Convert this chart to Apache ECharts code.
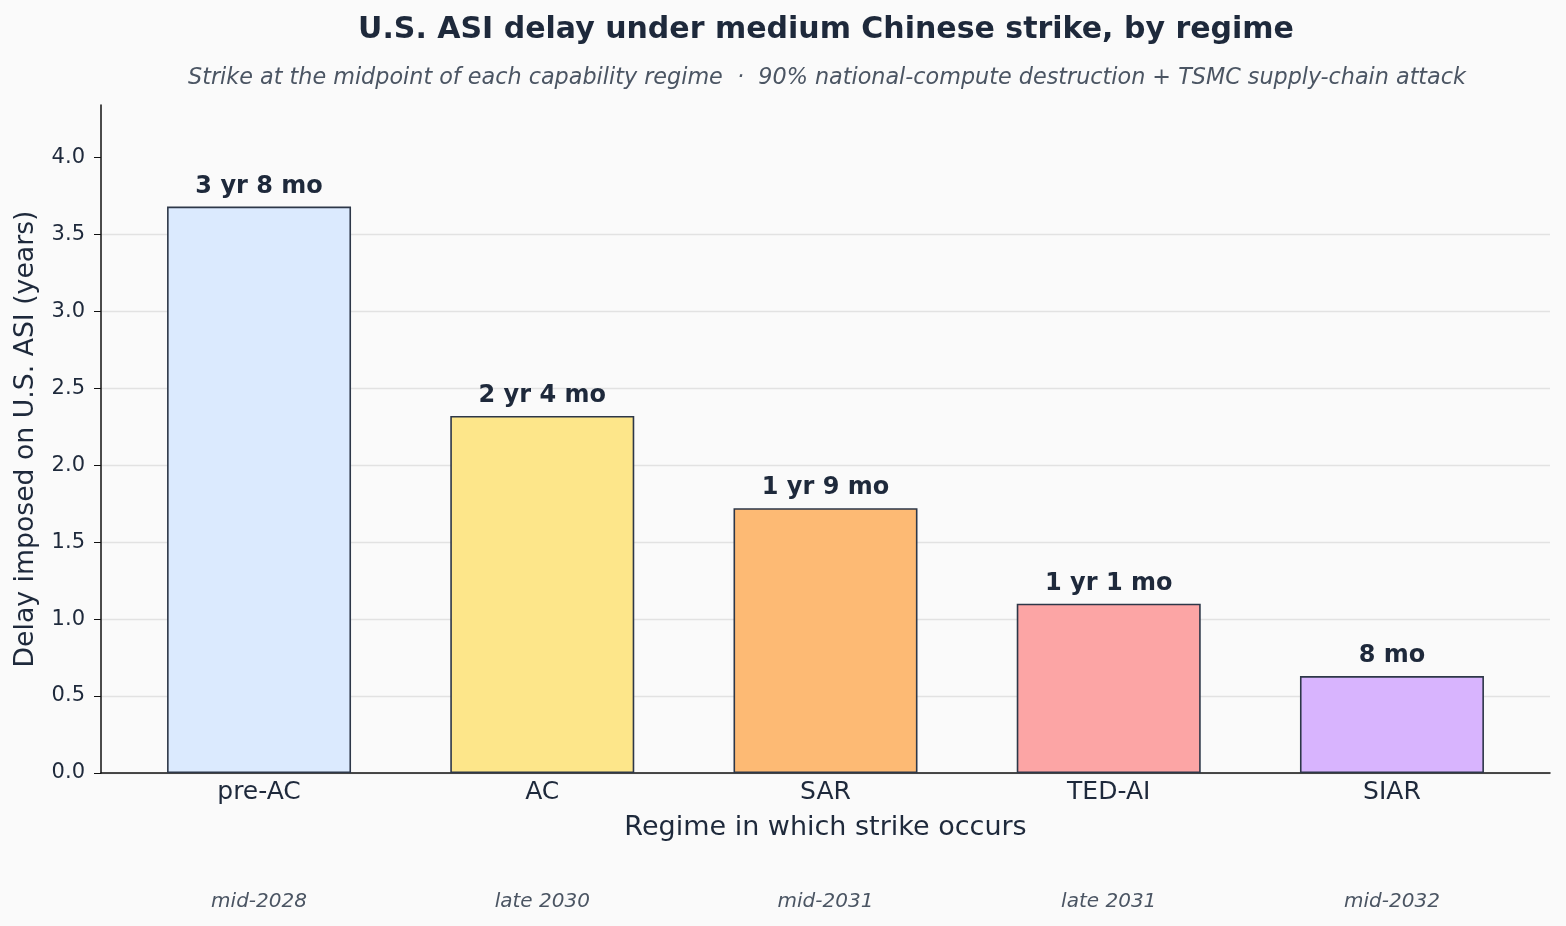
<!DOCTYPE html>
<html>
<head>
<meta charset="utf-8">
<script src="https://cdn.jsdelivr.net/npm/echarts@6/dist/echarts.min.js"></script>
<style>
html, body { margin: 0; padding: 0; background: #fafafa; }
#chart { width: 1566px; height: 926px; }
</style>
</head>
<body>
<div id="chart"></div>
<script>
var regimes = ['pre-AC', 'AC', 'SAR', 'TED-AI', 'SIAR'];
var strikeDates = ['mid-2028', 'late 2030', 'mid-2031', 'late 2031', 'mid-2032'];
var delayYears = [3.68, 2.32, 1.72, 1.10, 0.63];
var delayLabels = ['3 yr 8 mo', '2 yr 4 mo', '1 yr 9 mo', '1 yr 1 mo', '8 mo'];
var barColors = ['#dbeafe', '#fde68a', '#fdba74', '#fca5a5', '#d8b4fe'];
var yTicks = [0, 0.5, 1, 1.5, 2, 2.5, 3, 3.5, 4];

var chart = echarts.init(document.getElementById('chart'));
var font = 'DejaVu Sans';
var ink = '#1e293b';
var idx = regimes.map(function (r, i) { return i; });

var option = {
	backgroundColor: '#fafafa',
	textStyle: { fontFamily: font },
	title: [{
		text: 'U.S. ASI delay under medium Chinese strike, by regime',
		left: 821, top: 10, textAlign: 'center',
		textStyle: { fontFamily: font, fontSize: 30, fontWeight: 'bold', color: ink }
	}, {
		text: 'Strike at the midpoint of each capability regime  ·  90% national-compute destruction + TSMC supply-chain attack',
		left: 822, top: 62, textAlign: 'center',
		textStyle: { fontFamily: font, fontSize: 22.3, fontStyle: 'italic', fontWeight: 'normal', color: '#4b5563' }
	}],
	grid: { left: 101, right: 16, top: 105, bottom: 153 },
	xAxis: [{
		type: 'value',
		min: -0.558, max: 4.558,
		name: 'Regime in which strike occurs',
		nameLocation: 'middle', nameGap: 41,
		nameTextStyle: { fontSize: 27, color: ink },
		axisLine: { lineStyle: { color: '#111111', width: 1.5 } },
		axisTick: { show: false },
		splitLine: { show: false },
		axisLabel: {
			customValues: idx,
			fontSize: 25, color: ink, margin: 7,
			formatter: function (v) { return regimes[Math.round(v)]; }
		}
	}, {
		type: 'value',
		position: 'bottom',
		min: -0.558, max: 4.558,
		axisLine: { show: false },
		axisTick: { show: false },
		splitLine: { show: false },
		axisLabel: {
			customValues: idx,
			fontSize: 20, fontStyle: 'italic', color: '#4b5563', margin: 119,
			formatter: function (v) { return strikeDates[Math.round(v)]; }
		}
	}],
	yAxis: {
		type: 'value',
		min: 0, max: 4.34, interval: 0.5,
		name: 'Delay imposed on U.S. ASI (years)',
		nameLocation: 'middle', nameGap: 61,
		nameTextStyle: { fontSize: 26.7, color: ink },
		axisLine: { show: true, onZero: false, lineStyle: { color: '#111111', width: 1.5 } },
		axisTick: { show: true, customValues: yTicks, length: 7, lineStyle: { color: '#111111' } },
		axisLabel: {
			customValues: yTicks,
			fontSize: 21, color: ink, margin: 16,
			formatter: function (v) { return v.toFixed(1); }
		},
		splitLine: { show: true, showMaxLine: false, lineStyle: { color: '#e2e2e2', width: 1.3 } }
	},
	series: [{
		type: 'bar',
		barWidth: 184,
		data: delayYears.map(function (v, i) {
			return {
				value: [i, v],
				itemStyle: { color: barColors[i], borderColor: '#2d3748', borderWidth: 1.6 }
			};
		}),
		label: {
			show: true, position: 'top', distance: 8,
			fontSize: 24, fontWeight: 'bold', color: ink,
			formatter: function (p) { return delayLabels[p.dataIndex]; }
		}
	}]
};
chart.setOption(option);
</script>
</body>
</html>
